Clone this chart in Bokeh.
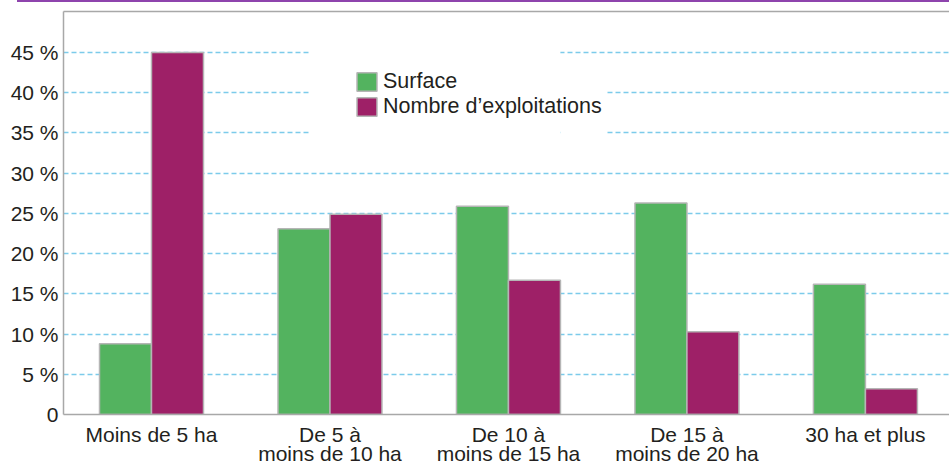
from bokeh.plotting import figure
from bokeh.models import (ColumnDataSource, Range1d, FixedTicker, LinearAxis,
                          Legend, LegendItem, Div, BoxAnnotation)
from bokeh.layouts import column
from bokeh.transform import dodge
from bokeh.embed import file_html
from bokeh.resources import INLINE

# ---- data ----
categories = ["Moins de 5 ha", "De 5 à\nmoins de 10 ha", "De 10 à\nmoins de 15 ha",
              "De 15 à\nmoins de 20 ha", "30 ha et plus"]
surface = [8.8, 23.1, 25.9, 26.3, 16.2]
exploitations = [45.0, 24.9, 16.7, 10.3, 3.2]
y_ticks = [0, 5, 10, 15, 20, 25, 30, 35, 40, 45]
y_tick_labels = ["0", "5 %", "10 %", "15 %", "20 %", "25 %", "30 %", "35 %", "40 %", "45 %"]
series_names = ["Surface", "Nombre d\u2019exploitations"]

GREEN = "#53b35f"
PURPLE = "#9e2067"
EDGE = "#b5b5b5"
AXIS = "#a8a8a8"
TEXT = "#231f20"
GRID = "#7ccbea"
FONT = "Liberation Sans"

xpos = list(range(len(categories)))
src = ColumnDataSource(dict(x=xpos, surface=surface, expl=exploitations))

p = figure(width=949, height=466, output_backend="svg", toolbar_location=None,
           x_range=Range1d(-0.493, 4.471), y_range=Range1d(0, 50.1),
           min_border_left=63, min_border_right=0, min_border_top=9, min_border_bottom=0,
           outline_line_color=None, outline_line_alpha=0.0,
           background_fill_color="white", border_fill_color="white", margin=0)

bw = 0.2913
r1 = p.vbar(x=dodge("x", -bw / 2), top="surface", width=bw, source=src,
            fill_color=GREEN, line_color=EDGE, line_width=1.5)
r2 = p.vbar(x=dodge("x", bw / 2), top="expl", width=bw, source=src,
            fill_color=PURPLE, line_color=EDGE, line_width=1.5)

# axes
xa = p.xaxis[0]
xa.ticker = FixedTicker(ticks=xpos)
xa.major_label_overrides = {i: c for i, c in zip(xpos, categories)}
xa.major_tick_line_color = None
xa.minor_tick_line_color = None
xa.major_tick_out = 0
xa.axis_line_color = AXIS
xa.axis_line_width = 1.5
xa.major_label_text_font = FONT
xa.major_label_text_font_size = "21px"
xa.major_label_text_color = TEXT
xa.major_label_text_line_height = 0.85
xa.major_label_standoff = 8

ya = p.yaxis[0]
ya.ticker = FixedTicker(ticks=y_ticks)
ya.major_label_overrides = {t: l for t, l in zip(y_ticks, y_tick_labels)}
ya.major_tick_line_color = None
ya.minor_tick_line_color = None
ya.major_tick_out = 0
ya.axis_line_color = AXIS
ya.axis_line_width = 1.5
ya.major_label_text_font = FONT
ya.major_label_text_font_size = "21px"
ya.major_label_text_color = TEXT
ya.major_label_standoff = 5

top = LinearAxis(ticker=FixedTicker(ticks=[]), axis_line_color=AXIS, axis_line_width=1.5,
                 major_tick_line_color=None, minor_tick_line_color=None,
                 major_tick_out=0, major_label_text_font_size="0px", major_label_standoff=0)
p.add_layout(top, "above")

p.xgrid.grid_line_color = None
p.ygrid.ticker = FixedTicker(ticks=y_ticks[1:])
p.ygrid.grid_line_color = GRID
p.ygrid.grid_line_dash = "5 3"
p.ygrid.grid_line_width = 1.5

# white area behind the legend that interrupts the grid lines
for l, r, b, t in [(0.891, 2.291, 34.1, 45.9), (2.291, 2.543, 34.1, 42.5)]:
    p.add_layout(BoxAnnotation(left=l, right=r, bottom=b, top=t, fill_color="white",
                               fill_alpha=1.0, line_color=None, level="underlay"))

legend = Legend(items=[LegendItem(label=series_names[0], renderers=[r1]),
                       LegendItem(label=series_names[1], renderers=[r2])],
                location=(291, 295), padding=0, margin=0,
                glyph_width=25, glyph_height=23, label_height=22, spacing=0,
                label_standoff=4, label_text_font=FONT, label_text_font_size="21.5px",
                label_text_color=TEXT, border_line_color=None,
                background_fill_color="white", background_fill_alpha=1.0)
p.add_layout(legend, "center")

bar = Div(text="", width=932, height=2, margin=(0, 0, 0, 17),
          styles={"background-color": "#8e44ad"})

layout = column(bar, p, spacing=0)

open("out.html", "w").write(file_html(layout, INLINE))
